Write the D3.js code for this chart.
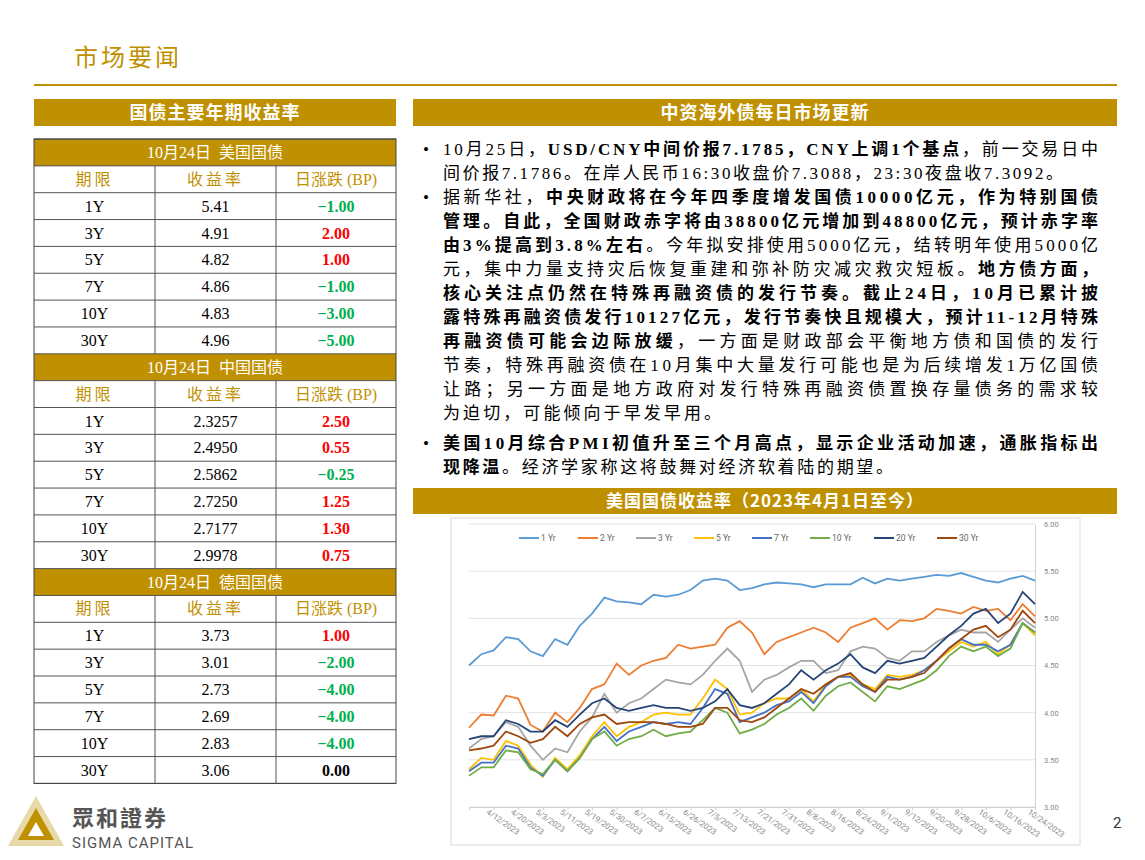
<!DOCTYPE html>
<html><head><meta charset="utf-8">
<script src="https://cdn.jsdelivr.net/npm/d3@7"></script>
<style>body{margin:0;background:#fff}svg{display:block}</style>
</head><body><div id="slide"></div>
<script>
// --- data ---
const tenors = ['1Y', '3Y', '5Y', '7Y', '10Y', '30Y'];
const usYield = ['5.41', '4.91', '4.82', '4.86', '4.83', '4.96'];
const usChg = [-1, 2, 1, -1, -3, -5];
const cnYield = ['2.3257', '2.4950', '2.5862', '2.7250', '2.7177', '2.9978'];
const cnChg = [2.5, 0.55, -0.25, 1.25, 1.3, 0.75];
const deYield = ['3.73', '3.01', '2.73', '2.69', '2.83', '3.06'];
const deChg = [1, -2, -4, -4, -4, 0];

const tickLabels = ['4/12/2023', '4/20/2023', '5/3/2023', '5/11/2023', '5/19/2023', '5/30/2023', '6/7/2023',
  '6/15/2023', '6/26/2023', '7/5/2023', '7/13/2023', '7/21/2023', '7/31/2023', '8/8/2023', '8/16/2023',
  '8/24/2023', '9/1/2023', '9/12/2023', '9/20/2023', '9/28/2023', '10/6/2023', '10/16/2023', '10/24/2023'];
const seriesNames = ['1 Yr', '2 Yr', '3 Yr', '5 Yr', '7 Yr', '10 Yr', '20 Yr', '30 Yr'];
const seriesColors = ['#5b9bd5', '#ed7d31', '#a5a5a5', '#ffc000', '#4472c4', '#70ad47', '#264478', '#9e480e'];
const y1 = [4.50,4.62,4.66,4.80,4.78,4.65,4.60,4.78,4.72,4.92,5.05,5.22,5.18,5.17,5.15,5.25,5.23,5.25,5.30,5.40,5.42,5.40,5.30,5.32,5.36,5.38,5.37,5.36,5.33,5.36,5.36,5.36,5.43,5.37,5.42,5.40,5.42,5.44,5.46,5.45,5.48,5.44,5.40,5.38,5.42,5.45,5.40];
const y2 = [3.84,3.98,3.97,4.18,4.15,3.87,3.80,4.00,3.90,4.05,4.25,4.30,4.52,4.40,4.50,4.55,4.58,4.72,4.68,4.70,4.72,4.90,4.97,4.85,4.62,4.75,4.80,4.85,4.90,4.85,4.75,4.90,4.95,5.00,4.88,4.98,4.97,5.00,5.10,5.08,5.05,5.12,5.08,5.10,4.98,5.15,5.02];
const y3 = [3.62,3.72,3.75,3.90,3.85,3.65,3.50,3.62,3.58,3.80,3.95,4.20,4.00,4.10,4.15,4.25,4.35,4.32,4.30,4.40,4.55,4.68,4.55,4.22,4.35,4.40,4.48,4.55,4.55,4.42,4.45,4.65,4.70,4.68,4.58,4.55,4.65,4.65,4.75,4.82,4.88,4.85,4.85,4.75,4.88,5.00,4.90];
const y5 = [3.40,3.52,3.50,3.70,3.65,3.45,3.32,3.52,3.40,3.55,3.75,3.90,3.75,3.85,3.90,3.98,4.00,3.98,3.98,4.15,4.35,4.25,3.98,4.00,4.10,4.15,4.15,4.25,4.12,4.30,4.38,4.40,4.30,4.25,4.40,4.38,4.40,4.45,4.55,4.65,4.75,4.70,4.75,4.62,4.72,4.95,4.82];
const y7 = [3.38,3.47,3.47,3.65,3.62,3.42,3.33,3.50,3.38,3.52,3.72,3.85,3.70,3.80,3.85,3.90,3.88,3.90,3.88,4.05,4.25,4.20,3.90,3.95,4.00,4.08,4.12,4.22,4.10,4.28,4.38,4.38,4.28,4.22,4.38,4.35,4.38,4.45,4.55,4.68,4.78,4.72,4.72,4.65,4.72,4.95,4.85];
const y10 = [3.33,3.42,3.42,3.60,3.58,3.40,3.35,3.50,3.38,3.52,3.72,3.80,3.65,3.72,3.75,3.82,3.75,3.78,3.80,3.92,4.05,4.00,3.78,3.82,3.88,3.98,4.05,4.15,4.02,4.18,4.28,4.32,4.22,4.12,4.28,4.25,4.30,4.35,4.45,4.60,4.70,4.65,4.70,4.60,4.68,4.95,4.85];
const y20 = [3.72,3.75,3.75,3.92,3.88,3.80,3.80,3.92,3.85,3.98,4.10,4.15,4.05,4.02,4.05,4.08,4.05,4.05,4.02,4.05,4.12,4.25,4.08,4.05,4.10,4.20,4.30,4.45,4.35,4.45,4.52,4.62,4.48,4.42,4.55,4.52,4.55,4.58,4.70,4.82,4.92,5.05,5.10,4.95,5.05,5.28,5.15];
const y30 = [3.60,3.62,3.65,3.80,3.75,3.68,3.72,3.85,3.75,3.88,3.95,3.98,3.88,3.90,3.90,3.90,3.88,3.85,3.85,3.88,4.05,4.05,3.92,3.90,3.95,4.05,4.15,4.25,4.20,4.30,4.38,4.42,4.30,4.22,4.35,4.35,4.38,4.42,4.55,4.68,4.78,4.88,4.92,4.80,4.88,5.08,4.95];
const seriesValues = [y1, y2, y3, y5, y7, y10, y20, y30];
const yTicks = [3.0, 3.5, 4.0, 4.5, 5.0, 5.5, 6.0];

const gold = '#bf9000';
const serif = '"Liberation Serif","Noto Sans CJK SC",serif';
const cjk = '"Noto Sans CJK SC",sans-serif';

const svg = d3.select('#slide').append('svg').attr('width', 1145).attr('height', 860);

// title
svg.append('text').text('市场要闻').attr('x', 74).attr('y', 66)
  .attr('font-family', cjk).attr('font-size', 24).attr('fill', gold).attr('letter-spacing', 3);
svg.append('line').attr('x1', 34).attr('x2', 1117).attr('y1', 85).attr('y2', 85)
  .attr('stroke', gold).attr('stroke-width', 2);

// band headers
const band = (x, y, w, h, txt, fs) => {
  svg.append('rect').attr('x', x).attr('y', y).attr('width', w).attr('height', h).attr('fill', gold);
  svg.append('text').text(txt).attr('x', x + w / 2).attr('y', y + h / 2 + fs * 0.36)
    .attr('text-anchor', 'middle').attr('fill', '#fff').attr('font-family', cjk)
    .attr('font-weight', 'bold').attr('font-size', fs).attr('letter-spacing', 1);
};
band(34, 99, 362, 27, '国债主要年期收益率', 18);
band(413, 99, 704, 27, '中资海外债每日市场更新', 18);
band(413, 488, 704, 26, '美国国债收益率（2023年4月1日至今）', 17);

// --- table ---
const cols = [34, 155, 276, 396];
const rowH = 26.85;
const tbl = svg.append('g');
let ty = 139;
const sections = [['10月24日  美国国债', usYield, usChg], ['10月24日  中国国债', cnYield, cnChg], ['10月24日  德国国债', deYield, deChg]];
const fmt = d3.format('.2f');
sections.forEach(([title, ys, cs]) => {
  tbl.append('rect').attr('x', 34).attr('y', ty).attr('width', 362).attr('height', rowH).attr('fill', gold);
  tbl.append('text').text(title).attr('x', 215).attr('y', ty + 19).attr('text-anchor', 'middle')
    .attr('fill', '#fff').attr('font-family', serif).attr('font-size', 16).attr('xml:space', 'preserve');
  ty += rowH;
  const hdr = ['期限', '收益率', '日涨跌 (BP)'];
  hdr.forEach((h, i) => {
    tbl.append('text').text(h).attr('x', (cols[i] + cols[i + 1]) / 2).attr('y', ty + 19)
      .attr('text-anchor', 'middle').attr('fill', gold).attr('font-family', serif).attr('font-size', 16)
      .attr('letter-spacing', i < 2 ? 3 : 0);
  });
  ty += rowH;
  tenors.forEach((t, i) => {
    const c = cs[i];
    const cells = [t, ys[i], fmt(c)];
    cells.forEach((v, j) => {
      tbl.append('text').text(v).attr('x', (cols[j] + cols[j + 1]) / 2).attr('y', ty + 19)
        .attr('text-anchor', 'middle').attr('font-family', serif).attr('font-size', 16)
        .attr('font-weight', j === 2 ? 'bold' : 'normal')
        .attr('fill', j < 2 ? '#000' : (c > 0 ? '#ff0000' : c < 0 ? '#00b050' : '#000'));
    });
    ty += rowH;
  });
});
// grid lines
d3.range(139, ty + 1, rowH).forEach(yy => {
  tbl.append('line').attr('x1', 34).attr('x2', 396).attr('y1', yy).attr('y2', yy)
    .attr('stroke', '#555').attr('stroke-width', 1);
});
tbl.append('rect').attr('x', 34).attr('y', 139).attr('width', 362).attr('height', ty - 139)
  .attr('fill', 'none').attr('stroke', '#444');
let vy = 139;
sections.forEach(() => {
  [155, 276].forEach(x => tbl.append('line').attr('x1', x).attr('x2', x)
    .attr('y1', vy + rowH).attr('y2', vy + rowH * 8).attr('stroke', '#555'));
  vy += rowH * 8;
});

// --- bullet text --- [bullet, segments, line width]
const lines = [
  [1, [['10月25日，', 0], ['USD/CNY中间价报7.1785，CNY上调1个基点', 1], ['，前一交易日中', 0]], 655],
  [0, [['间价报7.1786。在岸人民币16:30收盘价7.3088，23:30夜盘收7.3092。', 0]], 620],
  [1, [['据新华社，', 0], ['中央财政将在今年四季度增发国债10000亿元，作为特别国债', 1]], 655],
  [0, [['管理。自此，全国财政赤字将由38800亿元增加到48800亿元，预计赤字率', 1]], 655],
  [0, [['由3%提高到3.8%左右', 1], ['。今年拟安排使用5000亿元，结转明年使用5000亿', 0]], 655],
  [0, [['元，集中力量支持灾后恢复重建和弥补防灾减灾救灾短板。', 0], ['地方债方面，', 1]], 655],
  [0, [['核心关注点仍然在特殊再融资债的发行节奏。截止24日，10月已累计披', 1]], 655],
  [0, [['露特殊再融资债发行10127亿元，发行节奏快且规模大，预计11-12月特殊', 1]], 655],
  [0, [['再融资债可能会边际放缓', 1], ['，一方面是财政部会平衡地方债和国债的发行', 0]], 655],
  [0, [['节奏，特殊再融资债在10月集中大量发行可能也是为后续增发1万亿国债', 0]], 655],
  [0, [['让路；另一方面是地方政府对发行特殊再融资债置换存量债务的需求较', 0]], 655],
  [0, [['为迫切，可能倾向于早发早用。', 0]], 278],
  [1, [['美国10月综合PMI初值升至三个月高点，显示企业活动加速，通胀指标出', 1]], 655],
  [0, [['现降温', 1], ['。经济学家称这将鼓舞对经济软着陆的期望。', 0]], 450]
];
const lineY = [155, 179, 203, 227, 251, 275, 299, 323, 347, 371, 395, 419, 449, 473];
lines.forEach(([bullet, segs, len], i) => {
  if (bullet) svg.append('text').text('•').attr('x', 423).attr('y', lineY[i])
    .attr('font-size', 17).attr('font-family', serif);
  const t = svg.append('text').attr('x', 443).attr('y', lineY[i])
    .attr('font-family', serif).attr('font-size', 17).attr('fill', '#000')
    .attr('textLength', len).attr('lengthAdjust', 'spacing');
  segs.forEach(([s, b]) => t.append('tspan').text(s).attr('font-weight', b ? 'bold' : 'normal'));
});

// --- line chart ---
svg.append('rect').attr('x', 451).attr('y', 518).attr('width', 629).attr('height', 327)
  .attr('fill', 'none').attr('stroke', '#d9d9d9');
const cx0 = 469, cx1 = 1035;
const x = d3.scaleLinear().domain([0, y1.length - 1]).range([cx0, cx1]);
const y = d3.scaleLinear().domain([3, 6]).range([807, 524]);
const ch = svg.append('g');
ch.append('g').selectAll('line').data(yTicks).join('line')
  .attr('x1', cx0).attr('x2', cx1).attr('y1', d => y(d)).attr('y2', d => y(d))
  .attr('stroke', '#e3e3e3');
const axR = ch.append('g').attr('transform', `translate(${cx1},0)`)
  .call(d3.axisRight(y).tickValues(yTicks).tickFormat(d3.format('.2f')).tickSize(0).tickPadding(9));
axR.select('.domain').attr('stroke', '#d0d0d0');
axR.selectAll('text').attr('fill', '#888').attr('font-size', 7.5).attr('font-family', 'Roboto');
// x axis: ticks every 2 points, starting at index 2
const xTickIdx = tickLabels.map((d, i) => 2 + i * 2);
const axB = ch.append('g').attr('transform', 'translate(0,807)')
  .call(d3.axisBottom(x).tickValues(xTickIdx).tickFormat((d, i) => tickLabels[i]).tickSize(3));
axB.select('.domain').attr('stroke', '#d0d0d0');
axB.selectAll('line').attr('stroke', '#d0d0d0');
axB.selectAll('text').attr('fill', '#888').attr('font-size', 8).attr('font-family', 'Roboto')
  .attr('text-anchor', 'start').attr('transform', 'translate(-4,0) rotate(35)').attr('dy', '0.2em');

const line = d3.line().x((d, i) => x(i)).y(d => y(d));
seriesValues.forEach((vals, k) => {
  ch.append('path').datum(vals).attr('d', line).attr('fill', 'none')
    .attr('stroke', seriesColors[k]).attr('stroke-width', 1.8);
});
const legX = [519, 578, 636, 694, 752, 810, 874, 937];
seriesNames.forEach((n, k) => {
  ch.append('line').attr('x1', legX[k]).attr('x2', legX[k] + 20).attr('y1', 538).attr('y2', 538)
    .attr('stroke', seriesColors[k]).attr('stroke-width', 2);
  ch.append('text').text(n).attr('x', legX[k] + 22).attr('y', 541).attr('font-size', 8.5)
    .attr('fill', '#666').attr('font-family', 'Roboto');
});

// --- logo & page number ---
const logo = svg.append('g').attr('transform', 'translate(8,796)');
logo.append('path').attr('d', 'M28,0 L56,50 L0,50 Z').attr('fill', '#e8d9a8');
logo.append('path').attr('d', 'M28,12 L46,44 L10,44 Z').attr('fill', gold);
logo.append('path').attr('d', 'M28,26 L36,40 L20,40 Z').attr('fill', '#fff');
svg.append('text').text('眾和證券').attr('x', 72).attr('y', 826).attr('font-family', cjk)
  .attr('font-size', 22).attr('font-weight', 'bold').attr('fill', '#555').attr('letter-spacing', 2);
svg.append('text').text('SIGMA CAPITAL').attr('x', 72).attr('y', 848).attr('font-family', 'Roboto')
  .attr('font-size', 15).attr('fill', '#555').attr('letter-spacing', 1);
svg.append('text').text('2').attr('x', 1113).attr('y', 828).attr('font-family', 'Roboto')
  .attr('font-size', 15).attr('fill', '#333');
</script></body></html>
